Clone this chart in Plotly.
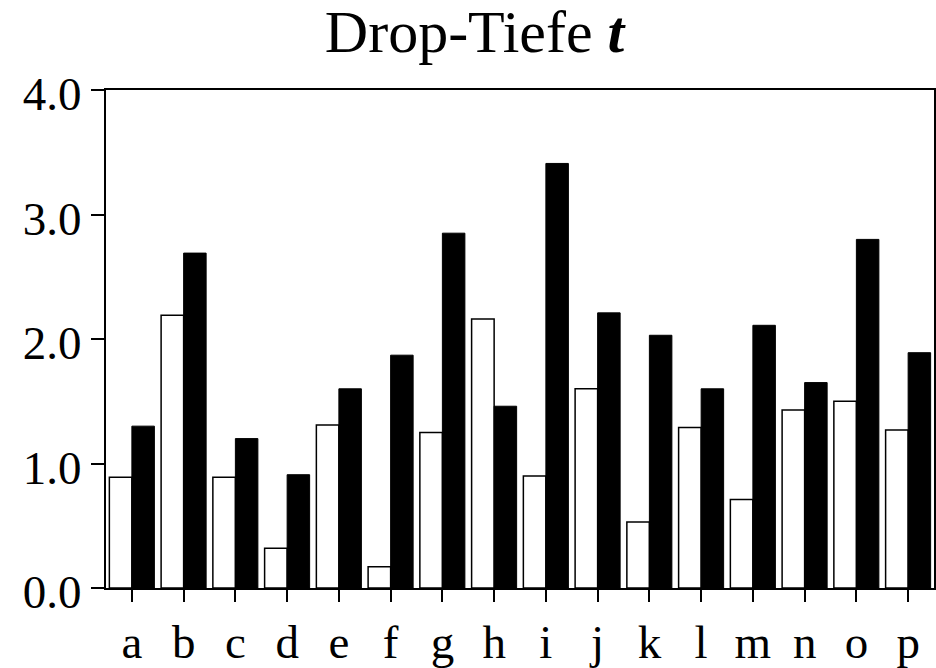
import plotly.graph_objects as go

# Categories along the x axis
categories = ["a", "b", "c", "d", "e", "f", "g", "h",
              "i", "j", "k", "l", "m", "n", "o", "p"]

# Drop depth t, two series per category
values_open = [0.89, 2.19, 0.89, 0.32, 1.31, 0.17, 1.25, 2.16,
               0.90, 1.60, 0.53, 1.29, 0.71, 1.43, 1.50, 1.27]
values_filled = [1.30, 2.69, 1.20, 0.91, 1.60, 1.87, 2.85, 1.46,
                 3.41, 2.21, 2.03, 1.60, 2.11, 1.65, 2.80, 1.89]

y_ticks = [0, 1, 2, 3, 4]
y_tick_labels = ["0.0", "1.0", "2.0", "3.0", "4.0"]

SERIF = "Liberation Serif, Times New Roman, Times, serif"

fig = go.Figure()
fig.add_trace(go.Bar(
    x=categories, y=values_open,
    marker=dict(color="white", line=dict(color="black", width=1.5)),
    showlegend=False,
))
fig.add_trace(go.Bar(
    x=categories, y=values_filled,
    marker=dict(color="black", line=dict(color="black", width=1)),
    showlegend=False,
))

fig.update_layout(
    width=936, height=668, autosize=False,
    margin=dict(l=106, r=0, t=90, b=78, pad=0),
    paper_bgcolor="white", plot_bgcolor="white",
    barmode="group", bargap=0.13, bargroupgap=0,
    font=dict(family=SERIF, color="black", size=47),
    title=dict(
        text="Drop-Tiefe <b><i>t</i></b>",
        font=dict(family=SERIF, size=60, color="black"),
        x=0.507, xref="container", xanchor="center",
        y=0.985, yref="container", yanchor="top",
    ),
)

fig.update_xaxes(
    range=[-0.5, 15.5],
    tickmode="array", tickvals=categories, ticktext=categories,
    showline=True, linecolor="black", linewidth=2, mirror=True,
    ticks="outside", ticklen=12, tickwidth=2, tickcolor="black",
    showgrid=False, zeroline=False,
    tickfont=dict(family=SERIF, size=47, color="black"),
)
fig.update_yaxes(
    range=[0, 4],
    tickmode="array", tickvals=y_ticks, ticktext=y_tick_labels,
    showline=True, linecolor="black", linewidth=2, mirror=True,
    ticks="outside", ticklen=13, tickwidth=2, tickcolor="black",
    showgrid=False, zeroline=False,
    tickfont=dict(family=SERIF, size=47, color="black"),
    ticklabelstandoff=0, ticklabelshift=4,
)

fig.write_html("out.html")
